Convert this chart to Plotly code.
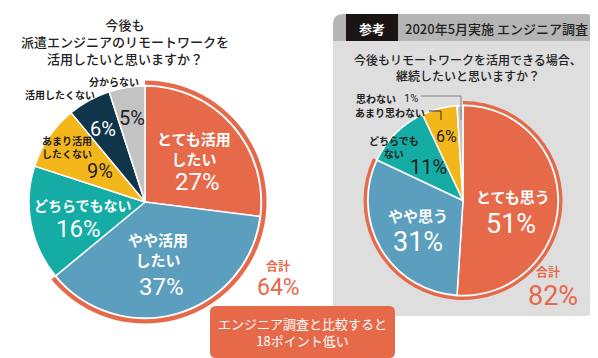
import plotly.graph_objects as go

# ---------------- data ----------------
left_labels = ["とても活用したい", "やや活用したい", "どちらでもない", "あまり活用したくない", "活用したくない", "分からない"]
left_values = [27, 37, 16, 9, 6, 5]
left_total = 64

right_labels = ["とても思う", "やや思う", "どちらでもない", "あまり思わない", "思わない"]
right_values = [51, 31, 11, 6, 1]
right_total = 82

# ---------------- style ----------------
W, H = 598, 358
ORANGE = "#E6694A"
BLUE = "#5C9EBE"
TEAL = "#14ACA4"
YELLOW = "#F4B71B"
NAVY = "#10344A"
GRAY = "#C3C3C3"
PANEL = "#DEDEDE"
HEADER = "#B5B5B5"
left_colors = [ORANGE, BLUE, TEAL, YELLOW, NAVY, GRAY]
right_colors = [ORANGE, BLUE, TEAL, YELLOW, GRAY]

JP = "Noto Sans CJK JP"
NUM = "Roboto, sans-serif"


def px(x):
    return x / W


def py(y):
    return 1 - y / H


def dom(cx, cy, r):
    return dict(x=[px(cx - r), px(cx + r)], y=[py(cy + r), py(cy - r)])


def rrect(x0, y0, x1, y1, r, corners=(1, 1, 1, 1)):
    # corners: tl, tr, br, bl
    tl, tr, br, bl = [r * c for c in corners]
    p = f"M {px(x0 + tl)},{py(y0)} L {px(x1 - tr)},{py(y0)} "
    p += f"Q {px(x1)},{py(y0)} {px(x1)},{py(y0 + tr)} "
    p += f"L {px(x1)},{py(y1 - br)} Q {px(x1)},{py(y1)} {px(x1 - br)},{py(y1)} "
    p += f"L {px(x0 + bl)},{py(y1)} Q {px(x0)},{py(y1)} {px(x0)},{py(y1 - bl)} "
    p += f"L {px(x0)},{py(y0 + tl)} Q {px(x0)},{py(y0)} {px(x0 + tl)},{py(y0)} Z"
    return p


fig = go.Figure()

# left pie
LCX, LCY, LR = 137, 194, 116
fig.add_trace(go.Pie(values=left_values, labels=left_labels, sort=False, direction="clockwise",
                     rotation=0, marker=dict(colors=left_colors, line=dict(color="white", width=1.5)),
                     textinfo="none", hoverinfo="label+value", domain=dom(LCX, LCY, LR), showlegend=False))
LRO = 121.5
fig.add_trace(go.Pie(values=[left_total, 100 - left_total], labels=["合計", "その他"], sort=False,
                     direction="clockwise", rotation=0, hole=(LR + 1.2) / LRO,
                     marker=dict(colors=[ORANGE, "rgba(0,0,0,0)"], line=dict(width=0)),
                     textinfo="none", hoverinfo="skip", domain=dom(LCX, LCY, LRO), showlegend=False))

# right pie
RCX, RCY, RR = 455, 192.5, 95
fig.add_trace(go.Pie(values=right_values, labels=right_labels, sort=False, direction="clockwise",
                     rotation=0, marker=dict(colors=right_colors, line=dict(color="white", width=1.5)),
                     textinfo="none", hoverinfo="label+value", domain=dom(RCX, RCY, RR), showlegend=False))
RRO = 99.5
fig.add_trace(go.Pie(values=[right_total, 100 - right_total], labels=["合計", "その他"], sort=False,
                     direction="clockwise", rotation=0, hole=(RR + 1.2) / RRO,
                     marker=dict(colors=[ORANGE, "rgba(0,0,0,0)"], line=dict(width=0)),
                     textinfo="none", hoverinfo="skip", domain=dom(RCX, RCY, RRO), showlegend=False))

shapes = [
    dict(type="path", path=rrect(325, 6, 588, 308, 11), xref="paper", yref="paper",
         fillcolor=PANEL, line=dict(width=0), layer="below"),
    dict(type="path", path=rrect(325, 6, 588, 33, 11, (1, 1, 0, 0)), xref="paper", yref="paper",
         fillcolor=HEADER, line=dict(width=0), layer="below"),
    dict(type="rect", x0=px(338), x1=px(390), y0=py(33), y1=py(6), xref="paper", yref="paper",
         fillcolor="#1B1414", line=dict(width=0), layer="below"),
    # callout box
    dict(type="path", path=rrect(202, 298, 387, 350, 6), xref="paper", yref="paper",
         fillcolor=ORANGE, line=dict(width=0), layer="above"),
    # leader lines
    dict(type="path", path=f"M {px(413)},{py(88)} L {px(453)},{py(88)} L {px(453)},{py(112)}",
         xref="paper", yref="paper", line=dict(color="#808080", width=1), layer="above"),
    dict(type="path", path=f"M {px(421)},{py(103)} L {px(433)},{py(103)} L {px(433)},{py(112)}",
         xref="paper", yref="paper", line=dict(color="#303030", width=1), layer="above"),
]

annotations = []


def txt(x, y, text, size, color="#222222", family=JP, weight=700, xanchor="center"):
    annotations.append(dict(x=px(x), y=py(y), xref="paper", yref="paper", text=text, showarrow=False,
                            xanchor=xanchor, yanchor="middle", align="center",
                            font=dict(family=family, size=size, color=color, weight=weight)))


# left title
txt(117, 33, "今後も<br>派遣エンジニアのリモートワークを<br>活用したいと思いますか？", 13, "#222222", weight=500)

# left labels
txt(186, 141, "とても活用<br>したい", 15, "white")
txt(189, 174, f"{left_values[0]}%", 24, "white", NUM, 400)
txt(150, 241, "やや活用<br>したい", 15, "white")
txt(153, 279, f"{left_values[1]}%", 24, "white", NUM, 400)
txt(75, 197, "どちらでもない", 14, "white")
txt(70, 221, f"{left_values[2]}%", 24, "white", NUM, 400)
txt(59, 139, "あまり活用<br>したくない", 10, "#222222")
txt(92, 163, f"{left_values[3]}%", 20, "#222222", NUM, 400)
txt(52, 87, "活用したくない", 10, "#222222")
txt(95, 121, f"{left_values[4]}%", 20, "white", NUM, 400)
txt(106, 73, "分からない", 10, "#222222")
txt(124, 110, f"{left_values[5]}%", 20, "#222222", NUM, 400)
txt(270, 257, "合計", 12, ORANGE)
txt(270, 279, f"{left_total}%", 23, ORANGE, NUM, 400)

# right panel header & title
txt(364, 20, "参考", 13, "white")
txt(488, 20, "2020年5月実施 エンジニア調査", 13, "#222222", weight=500)
txt(460, 60, "今後もリモートワークを活用できる場合、<br>継続したいと思いますか？", 12, "#222222", weight=500)

# right labels
txt(505, 188, "とても思う", 15, "white")
txt(503, 216, f"{right_values[0]}%", 27, "white", NUM, 400)
txt(410, 207, "やや思う", 15, "white")
txt(410, 234, f"{right_values[1]}%", 27, "white", NUM, 400)
txt(386, 139, "どちらでも<br>ない", 10, "#222222")
txt(420, 159, f"{right_values[2]}%", 20, "#222222", NUM, 400)
txt(438, 128, f"{right_values[3]}%", 16, "#222222", NUM, 400)
txt(382, 104, "あまり思わない", 10, "#222222")
txt(368, 90, "思わない", 10, "#222222")
txt(403, 90, f"{right_values[4]}%", 11, "#222222", NUM, 400)
txt(540, 263, "合計", 12, ORANGE)
txt(545, 288, f"{right_total}%", 27, ORANGE, NUM, 400)

# callout
txt(294, 324, f"エンジニア調査と比較すると<br>{right_total - left_total}ポイント低い", 13, "white", weight=400)

fig.update_layout(width=W, height=H, autosize=False, margin=dict(l=0, r=0, t=0, b=0),
                  paper_bgcolor="white", plot_bgcolor="white",
                  shapes=shapes, annotations=annotations, showlegend=False)

fig.write_html("out.html")
